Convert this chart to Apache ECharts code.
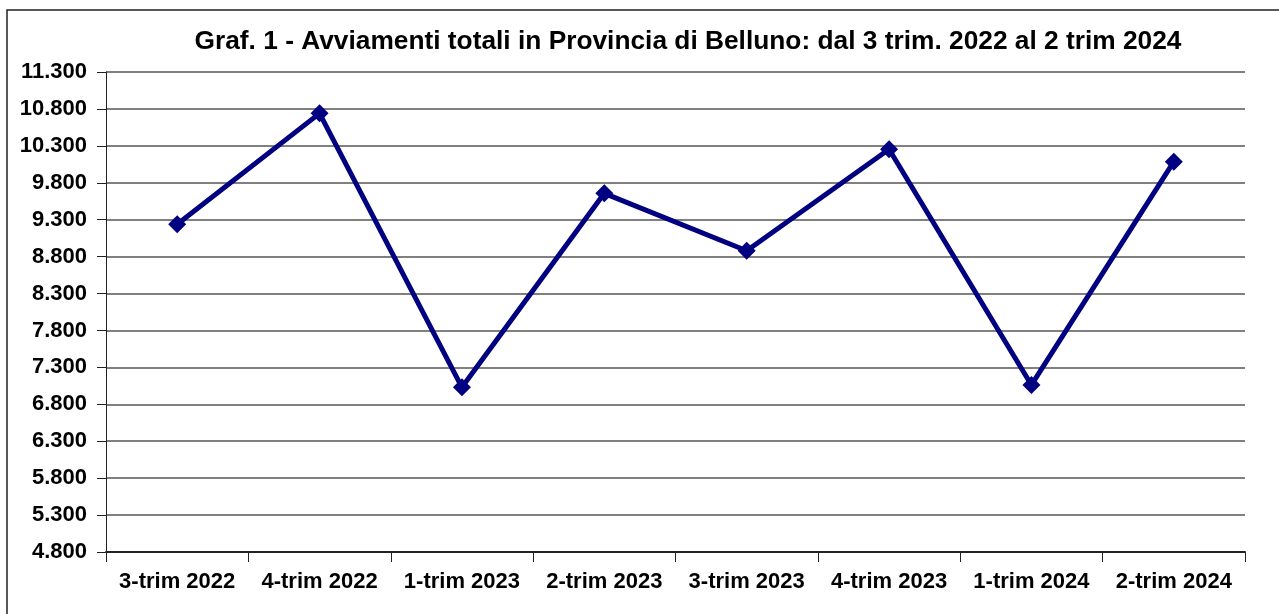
<!DOCTYPE html>
<html>
<head>
    <meta charset="utf-8">
    <title>Avviamenti Belluno</title>
    <script src="https://cdn.jsdelivr.net/npm/echarts@6/dist/echarts.min.js"></script>
    <style>
        html, body { margin: 0; padding: 0; background: #fff; }
        #main { width: 1279px; height: 614px; }
    </style>
</head>
<body>
    <div id="main"></div>
    <script type="text/javascript">
        // dati
        var categories = ['3-trim 2022', '4-trim 2022', '1-trim 2023', '2-trim 2023',
                          '3-trim 2023', '4-trim 2023', '1-trim 2024', '2-trim 2024'];
        var avviamenti = [9237, 10740, 7030, 9657, 8880, 10253, 7062, 10086];
        var yMin = 4800;
        var yMax = 11300;
        var yStep = 500;

        var font = 'Liberation Sans, Arial, sans-serif';

        var myChart = echarts.init(document.getElementById('main'));
        var option = {
            backgroundColor: '#fff',
            animation: false,
            title: {
                text: 'Graf. 1 - Avviamenti totali in Provincia di Belluno: dal 3 trim. 2022 al 2 trim 2024',
                left: 683,
                textAlign: 'center',
                top: 24,
                textStyle: { fontFamily: font, fontWeight: 'bold', fontSize: 26.3, color: '#000' }
            },
            graphic: [{
                type: 'rect',
                shape: { x: 7, y: 10, width: 1290, height: 620 },
                style: { fill: 'none', stroke: '#222', lineWidth: 1.5 },
                silent: true
            }],
            grid: { left: 106, right: 34, top: 72, bottom: 62 },
            xAxis: {
                type: 'category',
                data: categories,
                axisLine: { lineStyle: { color: '#222', width: 2 } },
                axisTick: { show: true, interval: 0, length: 10, lineStyle: { color: '#222', width: 1 } },
                axisLabel: {
                    interval: 0,
                    margin: 19,
                    fontFamily: font, fontWeight: 'bold', fontSize: 22, color: '#000'
                }
            },
            yAxis: {
                type: 'value',
                min: yMin,
                max: yMax,
                interval: yStep,
                axisLine: { show: true, lineStyle: { color: '#222', width: 1 } },
                axisTick: { show: true, length: 9, lineStyle: { color: '#222' } },
                splitLine: { lineStyle: { color: '#808080', width: 2 } },
                axisLabel: {
                    margin: 19,
                    padding: [4, 0, 0, 0],
                    fontFamily: font, fontWeight: 'bold', fontSize: 22, color: '#000',
                    formatter: function (v) { return (v / 1000).toFixed(3); }
                }
            },
            series: [{
                name: 'Avviamenti',
                type: 'line',
                data: avviamenti,
                symbol: 'diamond',
                symbolSize: 18,
                lineStyle: { color: '#000080', width: 5 },
                itemStyle: { color: '#000080' }
            }]
        };
        myChart.setOption(option);
    </script>
</body>
</html>
